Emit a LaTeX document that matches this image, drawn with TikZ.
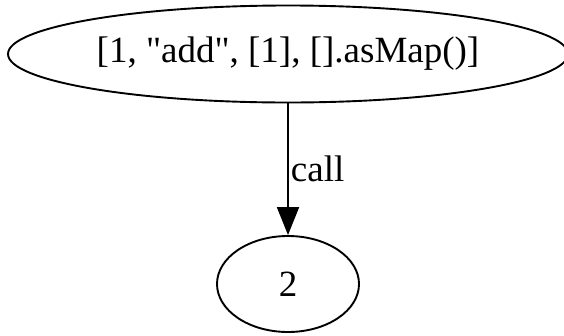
\documentclass[tikz,border=0pt]{standalone}
\usepackage{fontspec}
\setmainfont{Liberation Serif}[Ligatures=TeXOff]
\usetikzlibrary{arrows.meta,shapes.geometric}

\tikzset{
  callnode/.style={draw, ellipse, line width=1.9pt, inner sep=0pt,
    font=\fontsize{37}{40}\selectfont},
  calledge/.style={line width=1.9pt, -{Triangle[length=28pt,width=22pt]}}
}

\begin{document}
\begin{tikzpicture}[x=1pt, y=-1pt]
			%%%%% frame %%%%%
			\clip (0, 0) rectangle (564, 335);
			\useasboundingbox (0, 0) rectangle (564, 335);
			
			%%%%% nodes %%%%%
			\node[callnode, minimum width=560pt, minimum height=97pt] (list) at (288, 54) {[1, "add", [1], [].asMap()]};
			\node[callnode, minimum width=142pt, minimum height=96pt] (two) at (288, 284) {2};
			
			%%%%% edge %%%%%
			\draw[calledge] (list) -- (two)
				node[midway, anchor=west, inner sep=0pt, xshift=2pt, font=\fontsize{37}{40}\selectfont] (calllabel) {call};
		\end{tikzpicture}
\end{document}
